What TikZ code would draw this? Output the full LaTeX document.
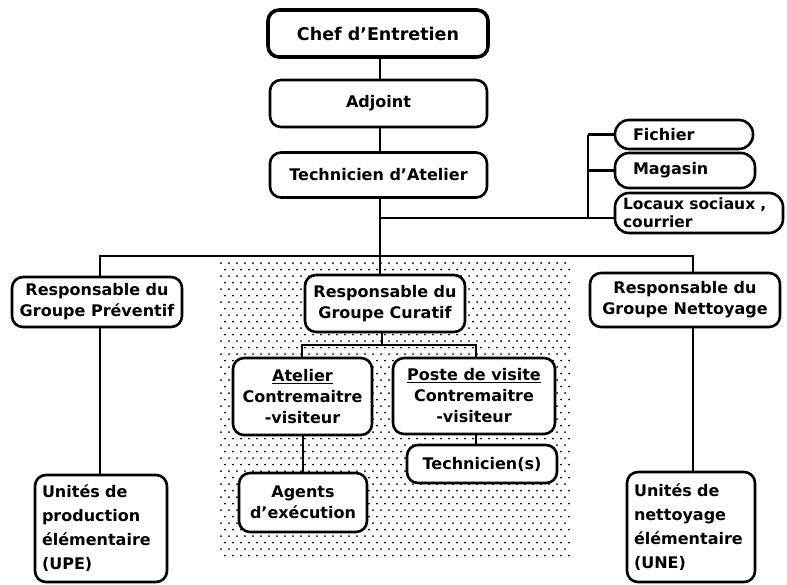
\documentclass[tikz,border=0pt]{standalone}
\usepackage{fontspec}
\setmainfont{DejaVu Sans}
\begin{document}
\begin{tikzpicture}[x=1pt,y=-1pt,
  box/.style={draw=black, line width=2.6pt, fill=white, rounded corners=11pt, align=center,
    inner sep=0pt, font=\fontsize{16}{21}\selectfont\bfseries},
  lbox/.style={box, align=left},
  conn/.style={draw=black, line width=2.3pt},
  dotstyle/.style={fill=black}]
\useasboundingbox (0,0) rectangle (787,584);
% stippled background of the curative group
\foreach \j in {0,...,45}{
  \pgfmathsetmacro{\yy}{263+6.5*\j}
  \pgfmathsetmacro{\off}{mod(\j,2)*4}
  \foreach \i in {0,...,43}{
    \pgfmathsetmacro{\xx}{221+8*\i+\off}
    \fill[dotstyle] (\xx,\yy) circle (1.0);
  }
}
% nodes
\node[box, line width=3.6pt, minimum width=220, minimum height=47, font=\fontsize{17.5}{21}\selectfont\bfseries] (chef) at (378,33.5) {Chef d'Entretien};
\node[box, minimum width=217, minimum height=47] (adj) at (378.5,103.5) {Adjoint};
\node[box, minimum width=217, minimum height=45] (tech) at (378.5,175) {Technicien d'Atelier};
\node[box, rounded corners=14pt, minimum width=138, minimum height=29, text width=102, align=left] (fich) at (684,134.5) {Fichier};
\node[box, rounded corners=14pt, minimum width=140, minimum height=35, text width=104, align=left] (mag) at (685,170.5) {Magasin};
\node[box, rounded corners=14pt, minimum width=168, minimum height=40, text width=152, align=left, font=\fontsize{15.5}{18}\selectfont\bfseries] (loc) at (699,213) {Locaux sociaux ,\\courrier};
\node[box, minimum width=170, minimum height=50] (prev) at (97,302) {Responsable du\\Groupe Préventif};
\node[box, minimum width=160, minimum height=57] (cur) at (385,303.5) {Responsable du\\Groupe Curatif};
\node[box, minimum width=190, minimum height=54] (net) at (685,300) {Responsable du\\Groupe Nettoyage};
\node[box, minimum width=139, minimum height=77] (atel) at (302.5,396.5) {\underline{Atelier}\\Contremaitre\\-visiteur};
\node[box, minimum width=162, minimum height=76] (poste) at (474,396) {\underline{Poste de visite}\\Contremaitre\\-visiteur};
\node[box, minimum width=128, minimum height=59] (agents) at (303,502.5) {Agents\\d'exécution};
\node[box, minimum width=150, minimum height=38] (techs) at (482,464) {Technicien(s)};
\node[lbox, minimum width=132, minimum height=107, text width=118, font=\fontsize{16}{24}\selectfont\bfseries] (upe) at (101,528.5) {Unités de\\production\\élémentaire\\(UPE)};
\node[lbox, minimum width=128, minimum height=110, text width=114, font=\fontsize{16}{24}\selectfont\bfseries] (une) at (691,527) {Unités de\\nettoyage\\élémentaire\\(UNE)};
% coordinates
\coordinate (t1) at (380,218);
\coordinate (t2) at (380,256);
\coordinate (bus1) at (588,134.5);
\coordinate (bus2) at (588,170.5);
\coordinate (bus3) at (588,218);
\coordinate (l1) at (100,256);
\coordinate (r1) at (693,256);
\coordinate (c1) at (382,345);
\coordinate (c2) at (302,345);
\coordinate (c3) at (476,345);
% connectors
\draw[conn] (chef.south -| t1) -- (adj.north -| t1);
\draw[conn] (adj.south -| t1) -- (tech.north -| t1);
\draw[conn] (tech.south -| t1) -- (t1) -- (t2) -- (cur.north -| t2);
\draw[conn] (t1) -- (loc.west |- t1);
\draw[conn] (bus1) -- (bus3);
\draw[conn] (bus1) -- (fich.west);
\draw[conn] (bus2) -- (mag.west);
\draw[conn] (prev.north -| l1) -- (l1) -- (r1) -- (net.north -| r1);
\draw[conn] (prev.south -| l1) -- (upe.north -| l1);
\draw[conn] (net.south -| r1) -- (une.north -| r1);
\draw[conn] (cur.south -| c1) -- (c1);
\draw[conn] (atel.north -| c2) -- (c2) -- (c3) -- (poste.north -| c3);
\draw[conn] (atel.south -| agents.north) -- (agents.north);
\draw[conn] (poste.south -| c3) -- (techs.north -| c3);
\end{tikzpicture}
\end{document}
